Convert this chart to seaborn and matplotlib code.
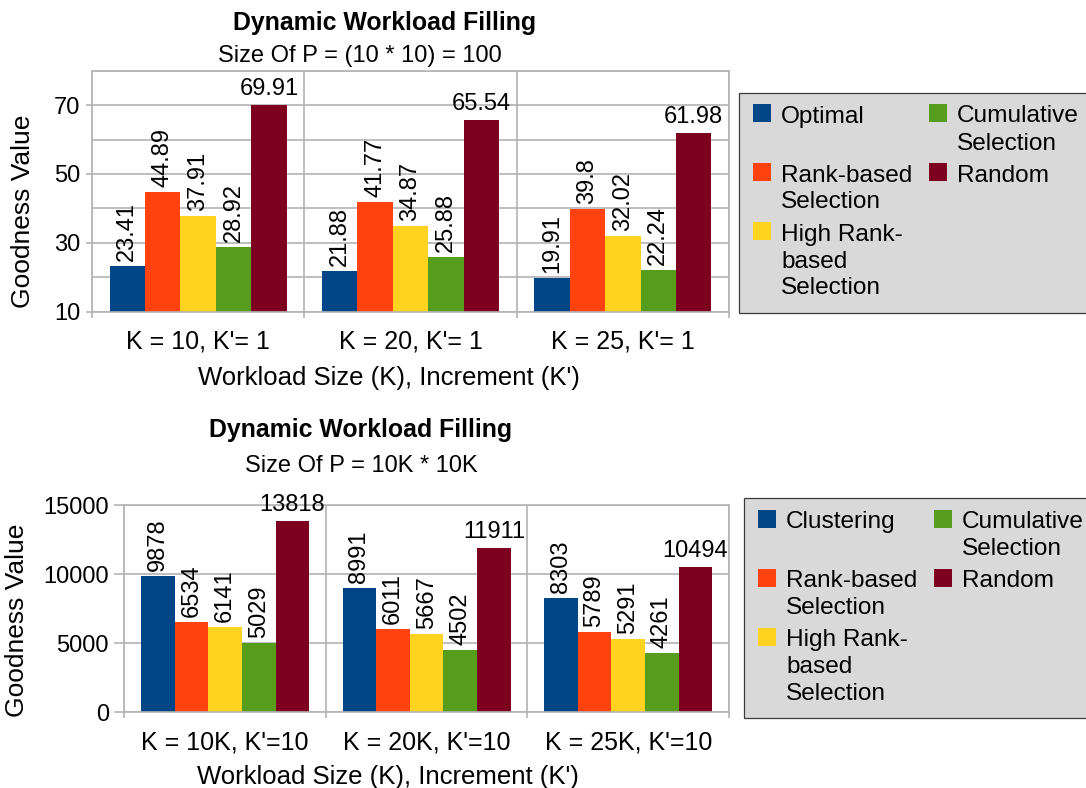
import numpy as np
import pandas as pd
import matplotlib
matplotlib.use("Agg")
import matplotlib.pyplot as plt
import seaborn as sns
from matplotlib.patches import Rectangle

# ---- data -------------------------------------------------------------
small_groups = ["K = 10, K'= 1", "K = 20, K'= 1", "K = 25, K'= 1"]
small_series = ["Optimal", "Rank-based\nSelection", "High Rank-\nbased\nSelection",
                "Cumulative\nSelection", "Random"]
small_optimal = [23.41, 21.88, 19.91]
small_rank = [44.89, 41.77, 39.8]
small_high_rank = [37.91, 34.87, 32.02]
small_cumulative = [28.92, 25.88, 22.24]
small_random = [69.91, 65.54, 61.98]

large_groups = ["K = 10K, K'=10", "K = 20K, K'=10", "K = 25K, K'=10"]
large_series = ["Clustering", "Rank-based\nSelection", "High Rank-\nbased\nSelection",
                "Cumulative\nSelection", "Random"]
large_clustering = [9878, 8991, 8303]
large_rank = [6534, 6011, 5789]
large_high_rank = [6141, 5667, 5291]
large_cumulative = [5029, 4502, 4261]
large_random = [13818, 11911, 10494]

small_yticks = [10, 30, 50, 70]
small_minor = [20, 40, 60, 80]
large_yticks = [0, 5000, 10000, 15000]

colors = ["#004586", "#ff420e", "#ffd320", "#579d1c", "#7e0021"]

# ---- style ------------------------------------------------------------
sns.set_style("white")
plt.rcParams["font.family"] = ["Liberation Sans", "DejaVu Sans"]
plt.rcParams.update({
    "text.color": "black",
    "axes.labelcolor": "black",
    "xtick.labelcolor": "black",
    "ytick.labelcolor": "black",
})
FS = 17          # value labels, y tick labels, subtitles
FS_XTICK = 18
FS_LEGEND = 17.6
FS_XLABEL = 18.5
FS_YLABEL = 19
FS_TITLE = 17.9
GRID = "#b3b3b3"
LEGEND_BG = "#d9d9d9"
LEGEND_EDGE = "#3c3c3c"

W, H, DPI = 1086, 788, 100
fig = plt.figure(figsize=(W / DPI, H / DPI), dpi=DPI)


def fx(px):
    return px / W


def fy(py):
    return 1 - py / H


def add_axes_px(left, top, right, bottom):
    return fig.add_axes([fx(left), fy(bottom), (right - left) / W, (bottom - top) / H])


def draw_panel(ax, box, groups, names, series_values, ylim, yticks, yminor,
               ytick_len, ylabel_px, xlabel_px):
    df = pd.DataFrame({
        "group": np.tile(groups, len(names)),
        "series": np.repeat(names, len(groups)),
        "value": np.concatenate([np.asarray(v, dtype=float) for v in series_values]),
    })
    sns.barplot(data=df, x="group", y="value", hue="series", order=groups,
                hue_order=names, palette=dict(zip(names, colors)), width=0.834,
                gap=0, saturation=1, linewidth=0, errorbar=None, legend=False, ax=ax)

    for k, cont in enumerate(ax.containers):
        labels = [f"{v:g}" for v in series_values[k]]
        rot = 0 if k == len(names) - 1 else 90
        ax.bar_label(cont, labels=labels, padding=3.6, rotation=rot,
                     fontsize=FS, color="black")

    ax.set_xlim(-0.5, len(groups) - 0.5)
    ax.set_ylim(*ylim)
    ax.set_yticks(yticks)
    ax.set_yticklabels([f"{t:g}" for t in yticks])
    if yminor:
        ax.set_yticks(yminor, minor=True)
    ax.set_xticks(range(len(groups)))
    ax.set_xticklabels(groups)
    ax.set_xticks(np.arange(-0.5, len(groups)), minor=True)

    ax.grid(True, which="both", axis="y", color=GRID, lw=1.2, zorder=0)
    ax.grid(True, which="minor", axis="x", color=GRID, lw=1.2, zorder=0)
    ax.grid(False, which="major", axis="x")
    ax.set_axisbelow(True)
    for sp in ax.spines.values():
        sp.set_visible(True)
        sp.set_color(GRID)
        sp.set_linewidth(1.2)

    ax.tick_params(axis="x", which="major", length=0, pad=13, labelsize=FS_XTICK,
                   labelcolor="black")
    ax.tick_params(axis="x", which="minor", length=4.5, width=1.2, color=GRID,
                   direction="out", bottom=True)
    ax.tick_params(axis="y", which="major", length=ytick_len, width=1.2, color=GRID,
                   direction="out", left=True, pad=4, labelsize=FS, labelcolor="black")
    ax.tick_params(axis="y", which="minor", length=0, left=False)

    left, top, right, bottom = box
    ax.set_ylabel("Goodness Value", fontsize=FS_YLABEL, color="black")
    ax.yaxis.set_label_coords((ylabel_px[0] - left) / (right - left),
                              (bottom - ylabel_px[1]) / (bottom - top))
    ax.yaxis.label.set_va("center")
    ax.yaxis.label.set_ha("center")
    ax.set_xlabel("Workload Size (K), Increment (K')", fontsize=FS_XLABEL, color="black")
    ax.xaxis.set_label_coords((xlabel_px[0] - left) / (right - left),
                              (bottom - xlabel_px[1]) / (bottom - top))
    ax.xaxis.label.set_va("baseline")


def draw_legend(left, top, bottom, names, row_offset):
    fig.add_artist(Rectangle((fx(left), fy(bottom)), (W + 10 - left) / W,
                             (bottom - top) / H, transform=fig.transFigure,
                             facecolor=LEGEND_BG, edgecolor=LEGEND_EDGE, lw=0.9))
    row_pitch, line_pitch = 59, 27
    for i, (name, color) in enumerate(zip(names, colors)):
        col, row = divmod(i, 3)
        px = left + 14 + col * 176
        cy = top + row_offset + row * row_pitch
        fig.add_artist(Rectangle((fx(px), fy(cy + 8)), 18 / W, 18 / H,
                                 transform=fig.transFigure, facecolor=color,
                                 edgecolor="none"))
        for j, line in enumerate(name.split("\n")):
            fig.text(fx(px + 28), fy(cy + j * line_pitch + 8.5), line,
                     fontsize=FS_LEGEND, va="baseline", ha="left", color="black")


# ---- upper chart: small problem ---------------------------------------
box_top = (92, 70.7, 729, 311.7)
ax1 = add_axes_px(*box_top)
draw_panel(ax1, box_top, small_groups, small_series,
           [small_optimal, small_rank, small_high_rank, small_cumulative, small_random],
           (10, 80), small_yticks, small_minor, 4.3, (23, 211.5), (389, 385))
fig.text(fx(385), fy(30), "Dynamic Workload Filling", fontsize=FS_TITLE,
         fontweight="bold", ha="center", va="baseline", color="black")
fig.text(fx(360), fy(62), "Size Of P = (10 * 10) = 100", fontsize=FS,
         ha="center", va="baseline", color="black")
draw_legend(739, 93, 313, small_series, 21)

# ---- lower chart: large problem ---------------------------------------
box_bot = (124.3, 505, 729, 712.3)
ax2 = add_axes_px(*box_bot)
draw_panel(ax2, box_bot, large_groups, large_series,
           [large_clustering, large_rank, large_high_rank, large_cumulative, large_random],
           (0, 15000), large_yticks, None, 7, (17.5, 620), (388, 784))
fig.text(fx(361), fy(437), "Dynamic Workload Filling", fontsize=FS_TITLE,
         fontweight="bold", ha="center", va="baseline", color="black")
fig.text(fx(361), fy(472), "Size Of P = 10K * 10K", fontsize=FS,
         ha="center", va="baseline", color="black")
draw_legend(744, 498, 718, large_series, 21.5)

fig.savefig("out.png", dpi=DPI)
